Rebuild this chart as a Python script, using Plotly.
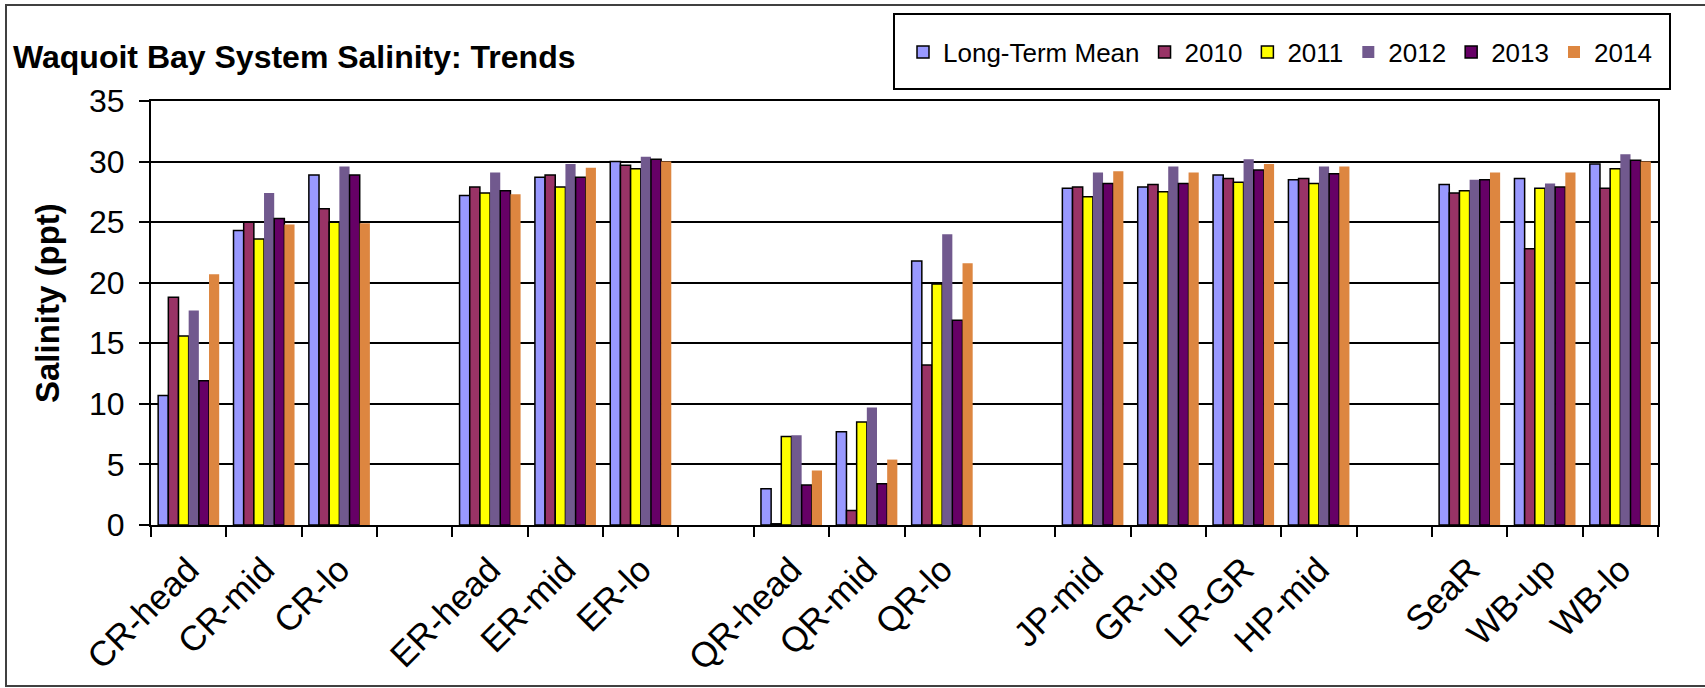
import plotly.graph_objects as go

# Sampling sites, with blank slots separating the river systems
sites = ["CR-head", "CR-mid", "CR-lo", " ",
         "ER-head", "ER-mid", "ER-lo", "  ",
         "QR-head", "QR-mid", "QR-lo", "   ",
         "JP-mid", "GR-up", "LR-GR", "HP-mid", "    ",
         "SeaR", "WB-up", "WB-lo"]

# Salinity (ppt) per site; None marks the blank separator slots
long_term_mean = [10.7, 24.3, 28.9, None, 27.2, 28.7, 30.0, None, 3.0, 7.7, 21.8, None,
                  27.8, 27.9, 28.9, 28.5, None, 28.1, 28.6, 29.8]
y2010 = [18.8, 25.0, 26.1, None, 27.9, 28.9, 29.7, None, 0.1, 1.2, 13.2, None,
         27.9, 28.1, 28.6, 28.6, None, 27.4, 22.8, 27.8]
y2011 = [15.6, 23.6, 25.0, None, 27.4, 27.9, 29.4, None, 7.3, 8.5, 19.9, None,
         27.1, 27.5, 28.3, 28.2, None, 27.6, 27.8, 29.4]
y2012 = [17.7, 27.4, 29.6, None, 29.1, 29.8, 30.4, None, 7.4, 9.7, 24.0, None,
         29.1, 29.6, 30.2, 29.6, None, 28.5, 28.2, 30.6]
y2013 = [11.9, 25.3, 28.9, None, 27.6, 28.7, 30.2, None, 3.3, 3.4, 16.9, None,
         28.2, 28.2, 29.3, 29.0, None, 28.5, 27.9, 30.1]
y2014 = [20.7, 24.8, 24.9, None, 27.3, 29.5, 30.0, None, 4.5, 5.4, 21.6, None,
         29.2, 29.1, 29.8, 29.6, None, 29.1, 29.1, 30.0]

series_names = ["Long-Term Mean", "2010", "2011", "2012", "2013", "2014"]
series_values = [long_term_mean, y2010, y2011, y2012, y2013, y2014]
series_colors = ["#9999FF", "#993366", "#FFFF00", "#71598E", "#660066", "#DD8640"]
series_outline = [1.5, 1.5, 1.5, 0, 1.5, 0]

y_ticks = [0, 5, 10, 15, 20, 25, 30, 35]

W, H = 1705, 688
PL, PR, PT, PB = 151, 1658, 101, 525  # plot area in pixels


def px(x):
    return (x - PL) / (PR - PL)


def py(y):
    return (PB - y) / (PB - PT)


FONT = "Arial, Liberation Sans, sans-serif"

fig = go.Figure()
for name, vals, color, lw in zip(series_names, series_values, series_colors, series_outline):
    fig.add_trace(go.Bar(
        x=sites, y=vals, name=name,
        marker=dict(color=color, line=dict(color="black", width=lw)),
    ))

fig.update_layout(
    width=W, height=H,
    margin=dict(l=PL, r=W - PR, t=PT, b=H - PB, autoexpand=False),
    paper_bgcolor="white", plot_bgcolor="white",
    barmode="group", bargap=0.19, bargroupgap=0,
    font=dict(family=FONT, color="black"),
    showlegend=True,
    legend=dict(
        orientation="h", x=px(903), xanchor="left", y=py(52), yanchor="middle",
        font=dict(size=26, family=FONT, color="black"),
        bgcolor="rgba(0,0,0,0)", borderwidth=0, itemwidth=30,
        traceorder="normal",
    ),
    xaxis=dict(
        type="category", categoryorder="array", categoryarray=sites,
        tickson="boundaries", ticks="outside", ticklen=10, tickwidth=2, tickcolor="black",
        tickangle=-45, tickfont=dict(size=35, family=FONT, color="black"),
        ticklabelstandoff=8,
        showline=True, linecolor="black", linewidth=2, mirror=True,
        showgrid=False, automargin=False,
    ),
    yaxis=dict(
        range=[0, 35], tickvals=y_ticks, ticktext=[str(v) for v in y_ticks],
        ticks="outside", ticklen=10, tickwidth=2, tickcolor="black",
        tickfont=dict(size=32, family=FONT, color="black"),
        ticklabelstandoff=8,
        showline=True, linecolor="black", linewidth=2, mirror=True,
        showgrid=True, gridcolor="black", gridwidth=2,
        zeroline=False, automargin=False,
    ),
    shapes=[
        # outer frame around the chart
        dict(type="rect", xref="paper", yref="paper",
             x0=px(6), x1=px(1712), y0=py(5), y1=py(686),
             line=dict(color="#404040", width=2), fillcolor="rgba(0,0,0,0)", layer="below"),
        # legend box
        dict(type="rect", xref="paper", yref="paper",
             x0=px(894), x1=px(1670), y0=py(14), y1=py(89),
             line=dict(color="black", width=2), fillcolor="rgba(0,0,0,0)"),
    ],
    annotations=[
        dict(text="<b>Waquoit Bay System Salinity: Trends</b>", xref="paper", yref="paper",
             x=px(11), y=py(57), xanchor="left", yanchor="middle", showarrow=False,
             font=dict(size=32, family=FONT, color="black")),
        dict(text="<b>Salinity (ppt)</b>", xref="paper", yref="paper",
             x=px(47), y=py(303), xanchor="center", yanchor="middle", showarrow=False,
             textangle=-90, font=dict(size=33, family=FONT, color="black")),
    ],
)

fig.write_html("out.html")
